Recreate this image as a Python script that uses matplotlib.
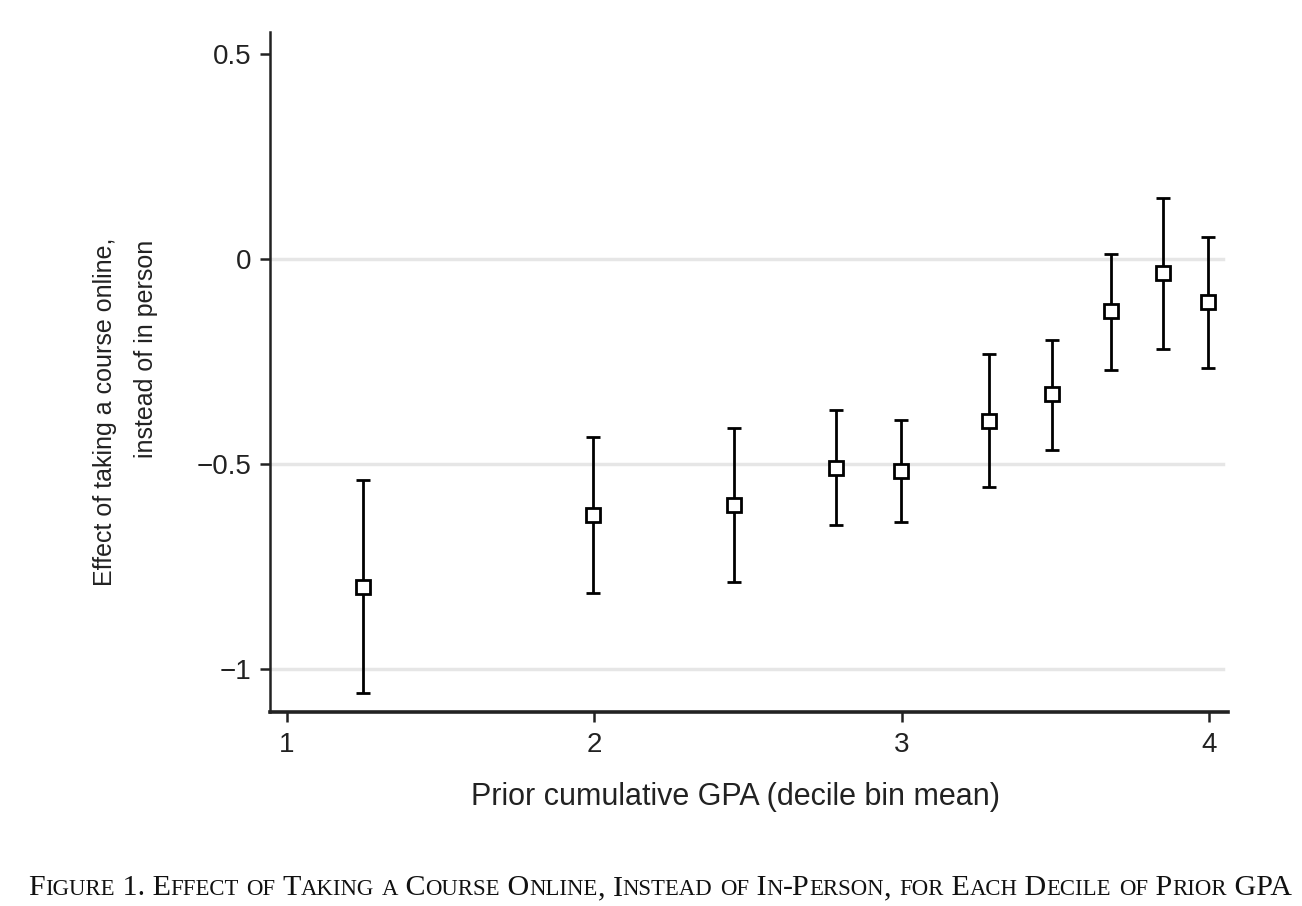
import numpy as np
import matplotlib
matplotlib.use("Agg")
import matplotlib.pyplot as plt

# decile bin means of prior GPA, point estimates and 95% CI bounds
gpa_bin = [1.247, 1.996, 2.455, 2.787, 2.997, 3.283, 3.490, 3.680, 3.850, 3.997]
effect = [-0.800, -0.624, -0.600, -0.510, -0.517, -0.395, -0.329, -0.127, -0.034, -0.105]
ci_hi = [-0.539, -0.434, -0.412, -0.368, -0.393, -0.232, -0.198, 0.012, 0.149, 0.054]
ci_lo = [-1.059, -0.815, -0.788, -0.649, -0.641, -0.556, -0.466, -0.271, -0.220, -0.266]

x_ticks = [1, 2, 3, 4]
y_ticks = [-1, -0.5, 0, 0.5]
y_tick_labels = ["\u22121", "\u22120.5", "0", "0.5"]
grid_vals = [-1, -0.5, 0]
xlabel = "Prior cumulative GPA (decile bin mean)"
ylabel_lines = ["Effect of taking a course online,", "instead of in person"]
caption = "Figure 1. Effect of Taking a Course Online, Instead of In-Person, for Each Decile of Prior GPA"

plt.rcParams['font.family'] = ['Liberation Sans', 'DejaVu Sans']

W, H = 1302, 906
fig = plt.figure(figsize=(W / 100, H / 100), dpi=100)
ax = fig.add_axes([270 / W, 1 - 712 / H, (1228 - 270) / W, (712 - 32) / H])

x = np.array(gpa_bin)
y = np.array(effect)
yerr = [y - np.array(ci_lo), np.array(ci_hi) - y]

for g in grid_vals:
    ax.axhline(g, xmax=(1223 - 270) / (1228 - 270), color='#e6e6e6', lw=2.5, zorder=0)

ax.errorbar(x, y, yerr=yerr, fmt='s', mfc='white', mec='black', mew=2.0, ms=10,
            ecolor='black', elinewidth=2.0, capsize=5.3, capthick=2.0, zorder=3)

ax.set_xlim(0.945, 4.062)
ax.set_ylim(-1.105, 0.554)

ax.spines['top'].set_visible(False)
ax.spines['right'].set_visible(False)
ax.spines['left'].set_linewidth(1.8)
ax.spines['bottom'].set_linewidth(2.6)
ax.spines['left'].set_color('#222222')
ax.spines['bottom'].set_color('#222222')

ax.set_xticks(x_ticks)
ax.set_xticklabels([str(t) for t in x_ticks])
ax.set_yticks(y_ticks)
ax.set_yticklabels(y_tick_labels)
ax.tick_params(axis='both', labelsize=20, colors='#222222', width=1.8, length=7.5)
ax.tick_params(axis='x', pad=7)
ax.tick_params(axis='y', pad=6)

# axis titles placed in pixel positions to follow the original
fig.text(735 / W, 1 - 797 / H, xlabel, fontsize=22, ha='center', va='center', color='#222222')
fig.text(105 / W, 1 - 238 / H, ylabel_lines[0], fontsize=18, rotation=90,
         ha='center', va='top', color='#222222')
fig.text(146 / W, 1 - 240 / H, ylabel_lines[1], fontsize=18, rotation=90,
         ha='center', va='top', color='#222222')

# caption in small caps, built from pieces of two sizes
big, small = 21.6, 16.4
renderer = fig.canvas.get_renderer()
runs = []
for ch in caption:
    is_small = ch.islower()
    if runs and runs[-1][1] == is_small:
        runs[-1][0] += ch
    else:
        runs.append([ch, is_small])

pieces = []
total = 0
for txt, is_small in runs:
    t = fig.text(0, 0, txt.upper() if is_small else txt, fontsize=small if is_small else big,
                 family='Liberation Serif', va='baseline', ha='left', color='#111111')
    w = t.get_window_extent(renderer).width
    pieces.append((t, w))
    total += w

cx = 660 - total / 2
base = 1 - 895 / H
for t, w in pieces:
    t.set_position((cx / W, base))
    cx += w

fig.savefig("out.png", dpi=100)
